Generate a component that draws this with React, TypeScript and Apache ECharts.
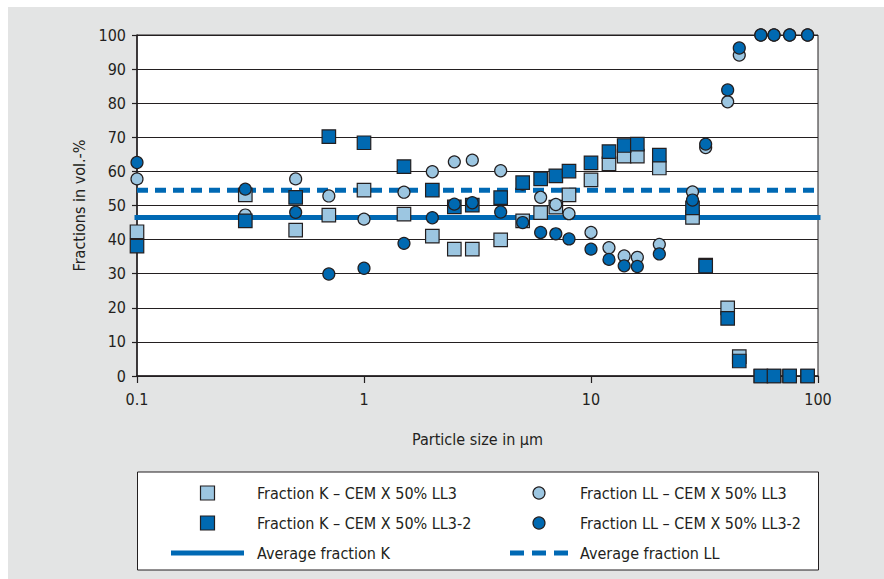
import React, { useEffect, useRef } from "react";
import * as echarts from "echarts";

// Particle sizes in µm (x values, log scale)
const particleSizes = [0.1, 0.3, 0.5, 0.7, 1, 1.5, 2, 2.5, 3, 4, 5, 6, 7, 8, 10, 12, 14, 16, 20, 28, 32, 40, 45, 56, 64, 75, 90];

// Fractions in vol.-%
const fractionK_LL3 = [42.3, 53.1, 42.8, 47.2, 54.5, 47.5, 41, 37.2, 37.2, 39.9, 45.5, 47.9, 49.5, 53.1, 57.5, 62.2, 64.5, 64.5, 61, 46.5, 32.5, 20, 5.7, 0, 0, 0, 0];
const fractionK_LL3_2 = [38.1, 45.5, 52.4, 70.2, 68.4, 61.4, 54.5, 49.6, 50.1, 52.3, 56.7, 57.8, 58.7, 60.1, 62.5, 65.8, 67.6, 68, 64.8, 49.3, 32.2, 16.9, 4.4, 0, 0, 0, 0];
const fractionLL_LL3 = [57.8, 47.2, 57.8, 52.8, 46, 53.9, 59.9, 62.8, 63.3, 60.2, 56.3, 52.4, 50.3, 47.6, 42.1, 37.6, 35.2, 34.8, 38.6, 54, 67, 80.4, 94.1, 100, 100, 100, 100];
const fractionLL_LL3_2 = [62.6, 54.8, 48, 29.9, 31.6, 38.9, 46.4, 50.4, 50.8, 48.1, 45, 42.1, 41.7, 40.2, 37.2, 34.2, 32.3, 32.1, 35.8, 51.6, 68, 83.9, 96.2, 100, 100, 100, 100];

const averageK = 46.5;
const averageLL = 54.5;

const xRange = [0.1, 100];
const yRange = [0, 100];
const yInterval = 10;

const seriesNames = [
  "Fraction K – CEM X 50% LL3",
  "Fraction K – CEM X 50% LL3-2",
  "Fraction LL – CEM X 50% LL3",
  "Fraction LL – CEM X 50% LL3-2",
  "Average fraction K",
  "Average fraction LL",
];

const FONT = "'Liberation Sans Narrow', 'Arial Narrow', 'DejaVu Sans Condensed', sans-serif";
const FS = 16;
const TEXT = "#231f20";
const LIGHT = "#9cc6e1";
const DARK = "#0069b1";
const LINE = "#0069b4";
const EDGE = "#231f20";

const pairs = (ys: number[]) => particleSizes.map((x, i) => [x, ys[i]]);

export default function App() {
  const ref = useRef<HTMLDivElement>(null);
  useEffect(() => {
    document.body.style.margin = "0";
    if (!ref.current) return;
    const chart = echarts.init(ref.current, undefined, { renderer: "svg" });
    const scatter = (name: string, ys: number[], symbol: string, size: number, color: string) => ({
      name,
      type: "scatter",
      data: pairs(ys),
      symbol,
      symbolSize: size,
      clip: false,
      itemStyle: { color, borderColor: EDGE, borderWidth: 1.2, opacity: 1 },
      z: 3,
    });
    const squareIcon = "path://M0,0H10V10H0Z";
    chart.setOption({
      animation: false,
      backgroundColor: "#ffffff",
      textStyle: { fontFamily: FONT, color: TEXT },
      graphic: [
        { type: "rect", shape: { x: 8, y: 7, width: 876, height: 572 }, style: { fill: "#e3e4e4" }, z: -10, silent: true },
        { type: "rect", shape: { x: 137.5, y: 472, width: 681, height: 98 }, style: { fill: "#ffffff", stroke: EDGE, lineWidth: 1 }, z: 1, silent: true },
      ],
      grid: { left: 137, right: 66, top: 35, bottom: 203, show: true, backgroundColor: "#ffffff", borderColor: EDGE, borderWidth: 1 },
      xAxis: {
        type: "log",
        logBase: 10,
        min: xRange[0],
        max: xRange[1],
        name: "Particle size in µm",
        nameLocation: "middle",
        nameGap: 55,
        nameTextStyle: { fontSize: FS, color: TEXT, fontFamily: FONT },
        axisLine: { show: true, lineStyle: { color: EDGE, width: 1.5 } },
        axisTick: { show: true, length: 7, lineStyle: { color: EDGE, width: 1.2 } },
        minorTick: { show: false },
        splitLine: { show: false },
        axisLabel: { fontSize: FS, color: TEXT, fontFamily: FONT, margin: 15 },
      },
      yAxis: {
        type: "value",
        min: yRange[0],
        max: yRange[1],
        interval: yInterval,
        name: "Fractions in vol.-%",
        nameLocation: "middle",
        nameGap: 48,
        nameTextStyle: { fontSize: FS, color: TEXT, fontFamily: FONT },
        axisLine: { show: true, lineStyle: { color: EDGE, width: 1.5 } },
        axisTick: { show: true, length: 5, lineStyle: { color: EDGE, width: 1.2 } },
        splitLine: { show: true, lineStyle: { color: EDGE, width: 1 } },
        axisLabel: { fontSize: FS, color: TEXT, fontFamily: FONT, margin: 11 },
      },
      legend: [
        {
          orient: "vertical",
          left: 171,
          top: 484,
          padding: 0,
          itemWidth: 73,
          itemHeight: 14,
          itemGap: 12,
          selectedMode: false,
          symbolKeepAspect: true,
          textStyle: { fontSize: FS, lineHeight: 18, color: TEXT, fontFamily: FONT, padding: [0, 0, 0, 8] },
          data: [
            { name: seriesNames[0], icon: squareIcon, itemStyle: { color: LIGHT, borderColor: EDGE, borderWidth: 1.2 } },
            { name: seriesNames[1], icon: squareIcon, itemStyle: { color: DARK, borderColor: EDGE, borderWidth: 1.2 } },
            { name: seriesNames[4], icon: "path://M0,0H73V5H0Z", itemStyle: { color: LINE, borderWidth: 0 } },
          ],
        },
        {
          orient: "vertical",
          left: 510,
          top: 484,
          padding: 0,
          itemWidth: 58,
          itemHeight: 12,
          itemGap: 12,
          selectedMode: false,
          symbolKeepAspect: true,
          textStyle: { fontSize: FS, lineHeight: 18, color: TEXT, fontFamily: FONT, padding: [0, 0, 0, 7] },
          data: [
            { name: seriesNames[2], itemStyle: { color: LIGHT, borderColor: EDGE, borderWidth: 1.2 } },
            { name: seriesNames[3], itemStyle: { color: DARK, borderColor: EDGE, borderWidth: 1.2 } },
            { name: seriesNames[5], icon: "path://M0,0H14V5H0Z M22,0H36V5H22Z M44,0H58V5H44Z", itemStyle: { color: LINE, borderWidth: 0 } },
          ],
        },
      ],
      series: [
        {
          name: seriesNames[4],
          type: "line",
          data: [[xRange[0], averageK], [xRange[1], averageK]],
          symbol: "none",
          lineStyle: { color: LINE, width: 5, cap: "square" },
          itemStyle: { color: LINE },
          z: 2,
        },
        {
          name: seriesNames[5],
          type: "line",
          data: [[xRange[0], averageLL], [xRange[1], averageLL]],
          symbol: "none",
          lineStyle: { color: LINE, width: 5, type: [11, 7] },
          itemStyle: { color: LINE },
          z: 2,
        },
        scatter(seriesNames[0], fractionK_LL3, "rect", 13.5, LIGHT),
        scatter(seriesNames[2], fractionLL_LL3, "circle", 12, LIGHT),
        scatter(seriesNames[1], fractionK_LL3_2, "rect", 13.5, DARK),
        scatter(seriesNames[3], fractionLL_LL3_2, "circle", 12, DARK),
      ],
    });
    return () => chart.dispose();
  }, []);
  return <div ref={ref} style={{ width: 884, height: 579 }} />;
}
